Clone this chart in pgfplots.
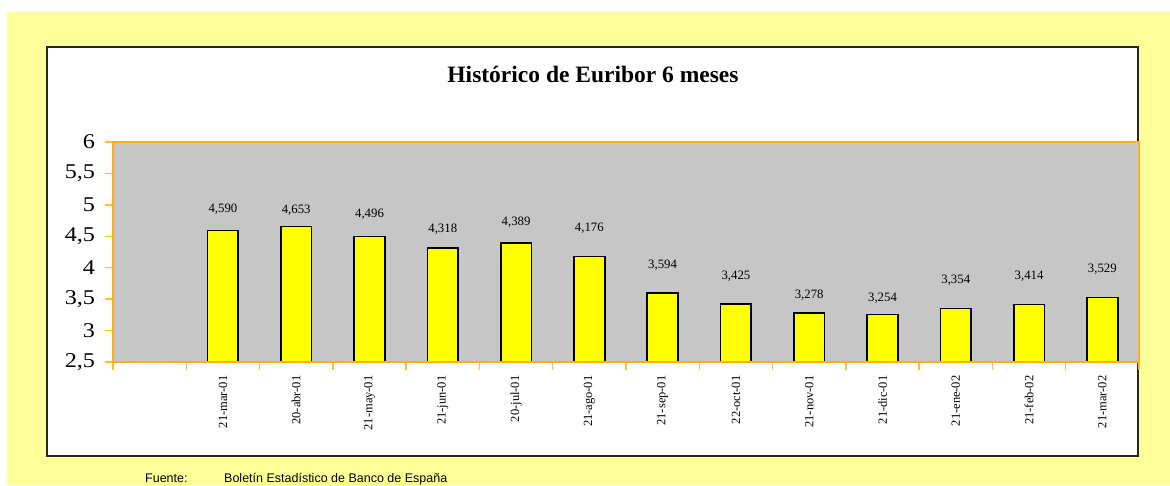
\documentclass[border=0pt]{standalone}
\usepackage{pgfplots}
\pgfplotsset{compat=1.18}
\usepackage{pgfplotstable}
\usepackage{fontspec}
\setmainfont{Liberation Serif}
\newfontfamily\arialfont{Liberation Sans}
\definecolor{bgyellow}{RGB}{255,255,153}
\definecolor{baryellow}{RGB}{255,255,0}
\definecolor{plotgray}{RGB}{198,198,198}
\definecolor{axisorange}{RGB}{255,176,20}
\definecolor{tickorange}{RGB}{255,190,40}

\pgfplotstableread{
x    val    laby
1.5  4.590  4.934
2.5  4.653  4.918
3.5  4.496  4.855
4.5  4.318  4.616
5.5  4.389  4.727
6.5  4.176  4.632
7.5  3.594  4.043
8.5  3.425  3.868
9.5  3.278  3.566
10.5 3.254  3.518
11.5 3.354  3.805
12.5 3.414  3.868
13.5 3.529  3.980
}\euribor

\begin{document}
\begin{tikzpicture}[x=1pt,y=1pt]
\useasboundingbox (0,0) rectangle (1170,485);
\fill[white] (0,0) rectangle (1170,485);
\fill[bgyellow] (7,0) rectangle (1170,473);
\filldraw[fill=white,draw=black!85,line width=1.3pt] (47,29) rectangle (1138,438);
\node[anchor=base,font=\fontsize{23.5}{24}\selectfont\bfseries] at (593,402) {Histórico de Euribor 6 meses};
\node[anchor=base west,inner sep=0pt,font=\arialfont\fontsize{12.5}{13}\selectfont] at (145,2.5) {Fuente:};
\node[anchor=base west,inner sep=0pt,font=\arialfont\fontsize{12.5}{13}\selectfont] at (224,2.5) {Boletín Estadístico de Banco de España};
\begin{axis}[
  at={(113pt,123pt)}, anchor=south west,
  scale only axis, width=1026pt, height=220pt,
  xmin=0, xmax=14, ymin=2.5, ymax=6,
  ytick={2.5,3,3.5,4,4.5,5,5.5,6},
  /pgf/number format/assume math mode=true,
  /pgf/number format/use comma,
  yticklabel style={font=\fontsize{21}{21}\selectfont,xscale=1.15},
  yticklabel shift=6pt,
  xtick={0,1,2,3,4,5,6,7,8,9,10,11,12,13,14},
  xticklabels={},
  extra x ticks={1.5,2.5,3.5,4.5,5.5,6.5,7.5,8.5,9.5,10.5,11.5,12.5,13.5},
  extra x tick labels={21-mar-01,20-abr-01,21-may-01,21-jun-01,20-jul-01,21-ago-01,21-sep-01,22-oct-01,21-nov-01,21-dic-01,21-ene-02,21-feb-02,21-mar-02},
  extra x tick style={major tick length=0pt, grid=none,
    xticklabel style={rotate=90,anchor=east,font=\fontsize{12.5}{13}\selectfont},
    xticklabel shift=10pt},
  xtick style={draw=tickorange,line width=1.3pt},
  ytick style={draw=tickorange,line width=1.5pt},
  major tick length=8pt,
  tick align=outside, xtick pos=bottom, ytick pos=left,
  axis line style={draw=axisorange,line width=1.4pt},
  axis background/.style={fill=plotgray},
  axis on top,
]
\addplot[ybar, bar width=30.7pt, fill=baryellow, draw=black, line width=1.6pt] table[x=x,y=val] {\euribor};
\addplot[draw=none, mark=none, point meta=explicit,
  nodes near coords={\pgfmathprintnumber[fixed,fixed zerofill,precision=3,use comma]{\pgfplotspointmeta}},
  every node near coord/.style={anchor=center,font=\fontsize{12.8}{13}\selectfont,text=black}]
  table[x=x,y=laby,meta=val] {\euribor};
\end{axis}
\end{tikzpicture}
\end{document}
